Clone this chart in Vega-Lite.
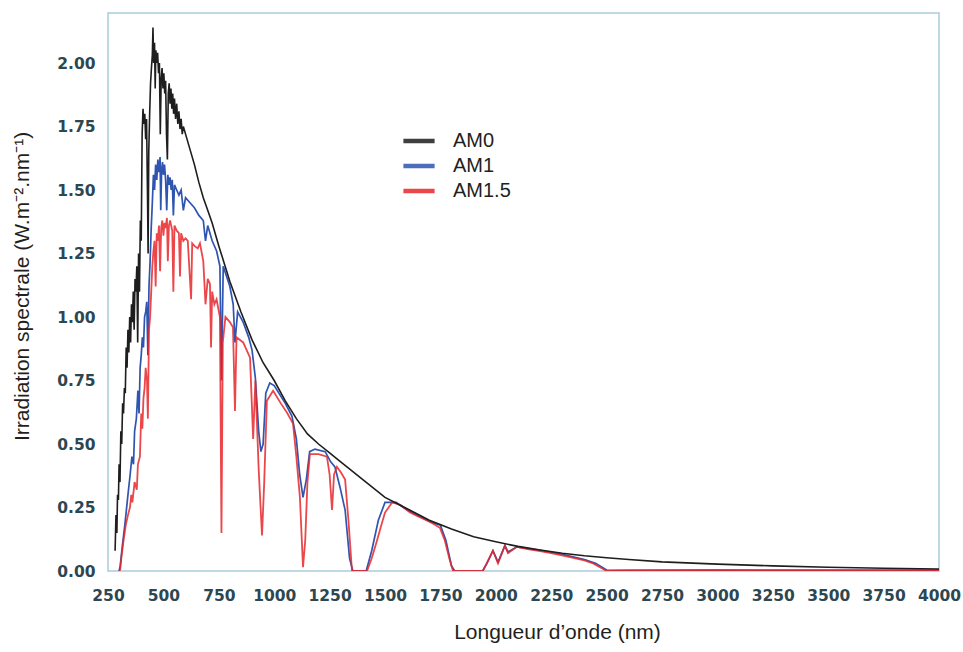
{
  "$schema": "https://vega.github.io/schema/vega-lite/v6.json",
  "width": 831,
  "height": 558,
  "autosize": {"type": "none"},
  "padding": {"left": 108, "top": 13, "right": 24, "bottom": 81},
  "background": "#ffffff",
  "config": {
    "view": {"stroke": "#a9cddc", "strokeWidth": 1.5},
    "axis": {
      "domain": false,
      "ticks": false,
      "grid": false,
      "labelFont": "DejaVu Sans",
      "labelFontWeight": "bold",
      "labelFontSize": 15.5,
      "labelColor": "#2d4751",
      "labelFlush": false,
      "titleFont": "Liberation Sans",
      "titleFontWeight": "normal",
      "titleFontSize": 21,
      "titleColor": "#231f20"
    },
    "legend": {
      "labelFont": "Liberation Sans",
      "labelFontSize": 20,
      "labelColor": "#231f20"
    }
  },
  "encoding": {
    "x": {
      "field": "w",
      "type": "quantitative",
      "scale": {"domain": [250, 4000], "nice": false, "zero": false},
      "axis": {
        "values": [250, 500, 750, 1000, 1250, 1500, 1750, 2000, 2250, 2500, 2750, 3000, 3250, 3500, 3750, 4000],
        "format": "d",
        "labelPadding": 17,
        "labelOverlap": false,
        "labelBound": false,
        "title": "Longueur d’onde (nm)",
        "titleX": 449,
        "titleY": 61,
        "titleAlign": "center",
        "titleBaseline": "middle"
      }
    },
    "y": {
      "field": "v",
      "type": "quantitative",
      "scale": {"domain": [0, 2.197], "nice": false},
      "axis": {
        "values": [0, 0.25, 0.5, 0.75, 1, 1.25, 1.5, 1.75, 2],
        "format": ".2f",
        "labelPadding": 13,
        "title": "Irradiation spectrale (W.m⁻².nm⁻¹)",
        "titleAngle": -90,
        "titleX": -86,
        "titleY": 273,
        "titleAlign": "center",
        "titleBaseline": "middle"
      }
    }
  },
  "layer": [
    {
      "data": {"values": [
        {"w":300,"v":0},{"w":305,"v":0.02},{"w":315,"v":0.1},{"w":327,"v":0.19},{"w":340,"v":0.3},{"w":350,"v":0.38},{"w":358,"v":0.45},{"w":365,"v":0.42},{"w":370,"v":0.55},{"w":378,"v":0.6},{"w":385,"v":0.71},{"w":390,"v":0.62},{"w":395,"v":0.8},{"w":400,"v":0.85},{"w":405,"v":0.92},{"w":410,"v":0.88},{"w":415,"v":1.0},{"w":420,"v":1.02},{"w":425,"v":1.06},{"w":430,"v":0.85},{"w":435,"v":1.12},{"w":440,"v":1.22},{"w":445,"v":1.35},{"w":450,"v":1.45},{"w":455,"v":1.56},{"w":460,"v":1.5},{"w":465,"v":1.6},{"w":470,"v":1.54},{"w":475,"v":1.62},{"w":480,"v":1.57},{"w":485,"v":1.63},{"w":488,"v":1.42},{"w":492,"v":1.58},{"w":496,"v":1.61},{"w":500,"v":1.56},{"w":505,"v":1.6},{"w":510,"v":1.54},{"w":515,"v":1.42},{"w":520,"v":1.56},{"w":525,"v":1.52},{"w":530,"v":1.55},{"w":535,"v":1.5},{"w":540,"v":1.54},{"w":545,"v":1.4},{"w":550,"v":1.52},{"w":560,"v":1.5},{"w":570,"v":1.48},{"w":580,"v":1.5},{"w":590,"v":1.42},{"w":600,"v":1.47},{"w":620,"v":1.45},{"w":640,"v":1.43},{"w":660,"v":1.4},{"w":680,"v":1.38},{"w":690,"v":1.3},{"w":700,"v":1.36},{"w":720,"v":1.3},{"w":740,"v":1.26},{"w":755,"v":1.2},{"w":762,"v":0.75},{"w":770,"v":1.2},{"w":800,"v":1.12},{"w":815,"v":1.05},{"w":823,"v":0.9},{"w":835,"v":1.02},{"w":860,"v":0.98},{"w":885,"v":0.92},{"w":900,"v":0.87},{"w":915,"v":0.76},{"w":930,"v":0.55},{"w":940,"v":0.47},{"w":950,"v":0.5},{"w":962,"v":0.7},{"w":980,"v":0.74},{"w":1000,"v":0.73},{"w":1050,"v":0.66},{"w":1080,"v":0.61},{"w":1100,"v":0.52},{"w":1115,"v":0.38},{"w":1130,"v":0.29},{"w":1145,"v":0.36},{"w":1160,"v":0.47},{"w":1184,"v":0.48},{"w":1230,"v":0.47},{"w":1255,"v":0.43},{"w":1274,"v":0.41},{"w":1297,"v":0.33},{"w":1320,"v":0.24},{"w":1340,"v":0.05},{"w":1355,"v":0},{"w":1415,"v":0},{"w":1440,"v":0.08},{"w":1470,"v":0.2},{"w":1500,"v":0.27},{"w":1550,"v":0.27},{"w":1600,"v":0.24},{"w":1700,"v":0.195},{"w":1750,"v":0.18},{"w":1775,"v":0.12},{"w":1800,"v":0.02},{"w":1815,"v":0},{"w":1940,"v":0},{"w":1960,"v":0.03},{"w":1987,"v":0.08},{"w":2010,"v":0.035},{"w":2041,"v":0.1},{"w":2055,"v":0.075},{"w":2095,"v":0.095},{"w":2200,"v":0.081},{"w":2300,"v":0.066},{"w":2400,"v":0.045},{"w":2450,"v":0.03},{"w":2500,"v":0.004},{"w":2600,"v":0.003},{"w":4000,"v":0.003}
      ]},
      "mark": {"type": "line", "strokeWidth": 1.7, "clip": true},
      "encoding": {
        "color": {
          "datum": "AM1",
          "type": "nominal",
          "scale": {"domain": ["AM0", "AM1", "AM1.5"], "range": ["#1e1e1e", "#2f55b0", "#e8262a"]},
          "legend": {
            "title": null,
            "orient": "none",
            "legendX": 301,
            "legendY": 118,
            "padding": 0,
            "symbolType": "M-2.4,0H2.4",
            "symbolSize": 169,
            "symbolStrokeWidth": 4.5,
            "labelOffset": 24,
            "rowPadding": 5
          }
        }
      }
    },
    {
      "data": {"values": [
        {"w":300,"v":0},{"w":305,"v":0.005},{"w":310,"v":0.05},{"w":320,"v":0.12},{"w":330,"v":0.18},{"w":340,"v":0.22},{"w":349,"v":0.25},{"w":355,"v":0.3},{"w":360,"v":0.27},{"w":370,"v":0.35},{"w":380,"v":0.32},{"w":385,"v":0.42},{"w":394,"v":0.45},{"w":400,"v":0.62},{"w":405,"v":0.56},{"w":410,"v":0.68},{"w":415,"v":0.72},{"w":420,"v":0.8},{"w":426,"v":0.75},{"w":430,"v":0.6},{"w":435,"v":0.95},{"w":440,"v":1.0},{"w":445,"v":1.1},{"w":450,"v":1.2},{"w":455,"v":1.26},{"w":460,"v":1.3},{"w":465,"v":1.12},{"w":470,"v":1.33},{"w":475,"v":1.3},{"w":480,"v":1.36},{"w":485,"v":1.18},{"w":490,"v":1.35},{"w":495,"v":1.38},{"w":500,"v":1.32},{"w":505,"v":1.37},{"w":510,"v":1.35},{"w":516,"v":1.39},{"w":520,"v":1.22},{"w":525,"v":1.36},{"w":530,"v":1.38},{"w":540,"v":1.34},{"w":545,"v":1.1},{"w":550,"v":1.36},{"w":560,"v":1.34},{"w":570,"v":1.33},{"w":575,"v":1.16},{"w":580,"v":1.33},{"w":590,"v":1.3},{"w":600,"v":1.31},{"w":610,"v":1.3},{"w":625,"v":1.07},{"w":630,"v":1.29},{"w":640,"v":1.28},{"w":655,"v":1.27},{"w":665,"v":1.29},{"w":680,"v":1.22},{"w":690,"v":1.05},{"w":700,"v":1.15},{"w":710,"v":1.13},{"w":715,"v":0.88},{"w":720,"v":1.1},{"w":730,"v":1.05},{"w":740,"v":1.07},{"w":755,"v":1.0},{"w":762,"v":0.15},{"w":768,"v":0.9},{"w":780,"v":1.0},{"w":800,"v":0.98},{"w":814,"v":0.96},{"w":823,"v":0.63},{"w":830,"v":0.92},{"w":860,"v":0.9},{"w":891,"v":0.84},{"w":905,"v":0.52},{"w":915,"v":0.75},{"w":930,"v":0.4},{"w":945,"v":0.14},{"w":955,"v":0.35},{"w":967,"v":0.67},{"w":995,"v":0.71},{"w":1030,"v":0.66},{"w":1060,"v":0.62},{"w":1085,"v":0.58},{"w":1100,"v":0.45},{"w":1116,"v":0.29},{"w":1130,"v":0.015},{"w":1140,"v":0.12},{"w":1150,"v":0.35},{"w":1161,"v":0.46},{"w":1200,"v":0.46},{"w":1238,"v":0.45},{"w":1250,"v":0.38},{"w":1261,"v":0.24},{"w":1270,"v":0.38},{"w":1283,"v":0.41},{"w":1300,"v":0.39},{"w":1320,"v":0.36},{"w":1335,"v":0.2},{"w":1351,"v":0},{"w":1419,"v":0},{"w":1440,"v":0.05},{"w":1464,"v":0.12},{"w":1480,"v":0.17},{"w":1500,"v":0.23},{"w":1532,"v":0.27},{"w":1570,"v":0.26},{"w":1613,"v":0.23},{"w":1650,"v":0.215},{"w":1700,"v":0.195},{"w":1748,"v":0.17},{"w":1770,"v":0.12},{"w":1790,"v":0.05},{"w":1807,"v":0},{"w":1942,"v":0},{"w":1987,"v":0.08},{"w":2010,"v":0.03},{"w":2041,"v":0.1},{"w":2055,"v":0.07},{"w":2095,"v":0.095},{"w":2150,"v":0.085},{"w":2200,"v":0.078},{"w":2250,"v":0.07},{"w":2335,"v":0.055},{"w":2400,"v":0.042},{"w":2439,"v":0.03},{"w":2470,"v":0.015},{"w":2500,"v":0},{"w":2600,"v":0.002},{"w":3000,"v":0.004},{"w":3500,"v":0.003},{"w":4000,"v":0.003}
      ]},
      "mark": {"type": "line", "strokeWidth": 1.8, "opacity": 0.85, "clip": true},
      "encoding": {"color": {"datum": "AM1.5", "type": "nominal"}}
    },
    {
      "data": {"values": [
        {"w":282,"v":0.08},{"w":286,"v":0.22},{"w":290,"v":0.15},{"w":293,"v":0.3},{"w":297,"v":0.28},{"w":300,"v":0.42},{"w":304,"v":0.35},{"w":308,"v":0.55},{"w":312,"v":0.5},{"w":316,"v":0.66},{"w":320,"v":0.62},{"w":324,"v":0.72},{"w":328,"v":0.7},{"w":332,"v":0.88},{"w":336,"v":0.8},{"w":340,"v":0.95},{"w":344,"v":0.86},{"w":348,"v":1.0},{"w":352,"v":0.9},{"w":356,"v":1.05},{"w":360,"v":0.98},{"w":364,"v":1.1},{"w":368,"v":0.95},{"w":372,"v":1.15},{"w":376,"v":1.1},{"w":380,"v":1.2},{"w":384,"v":0.9},{"w":388,"v":1.25},{"w":392,"v":1.1},{"w":396,"v":1.38},{"w":400,"v":1.3},{"w":404,"v":1.72},{"w":408,"v":1.82},{"w":412,"v":1.76},{"w":416,"v":1.8},{"w":420,"v":1.7},{"w":424,"v":1.78},{"w":428,"v":1.5},{"w":431,"v":1.25},{"w":434,"v":1.65},{"w":438,"v":1.8},{"w":442,"v":1.92},{"w":446,"v":1.98},{"w":450,"v":2.03},{"w":453,"v":2.14},{"w":456,"v":2.0},{"w":460,"v":2.08},{"w":463,"v":1.9},{"w":466,"v":2.05},{"w":470,"v":2.0},{"w":474,"v":2.04},{"w":478,"v":1.96},{"w":482,"v":2.0},{"w":486,"v":1.72},{"w":490,"v":1.94},{"w":494,"v":1.98},{"w":498,"v":1.9},{"w":502,"v":1.96},{"w":506,"v":1.88},{"w":510,"v":1.93},{"w":514,"v":1.72},{"w":518,"v":1.62},{"w":522,"v":1.88},{"w":526,"v":1.92},{"w":530,"v":1.84},{"w":534,"v":1.9},{"w":538,"v":1.82},{"w":542,"v":1.88},{"w":546,"v":1.8},{"w":550,"v":1.86},{"w":555,"v":1.78},{"w":560,"v":1.84},{"w":565,"v":1.76},{"w":570,"v":1.81},{"w":575,"v":1.74},{"w":580,"v":1.78},{"w":585,"v":1.72},{"w":590,"v":1.75},{"w":600,"v":1.72},{"w":620,"v":1.66},{"w":640,"v":1.6},{"w":660,"v":1.53},{"w":680,"v":1.47},{"w":700,"v":1.42},{"w":720,"v":1.37},{"w":750,"v":1.28},{"w":800,"v":1.14},{"w":850,"v":1.02},{"w":900,"v":0.91},{"w":950,"v":0.82},{"w":1000,"v":0.75},{"w":1050,"v":0.67},{"w":1100,"v":0.6},{"w":1150,"v":0.54},{"w":1200,"v":0.5},{"w":1250,"v":0.465},{"w":1300,"v":0.43},{"w":1400,"v":0.36},{"w":1500,"v":0.29},{"w":1600,"v":0.245},{"w":1700,"v":0.2},{"w":1800,"v":0.165},{"w":1900,"v":0.135},{"w":2000,"v":0.115},{"w":2100,"v":0.097},{"w":2200,"v":0.083},{"w":2300,"v":0.07},{"w":2400,"v":0.06},{"w":2500,"v":0.052},{"w":2600,"v":0.045},{"w":2750,"v":0.036},{"w":3000,"v":0.027},{"w":3250,"v":0.02},{"w":3500,"v":0.015},{"w":3750,"v":0.011},{"w":4000,"v":0.008}
      ]},
      "mark": {"type": "line", "strokeWidth": 1.6, "clip": true},
      "encoding": {"color": {"datum": "AM0", "type": "nominal"}}
    }
  ]
}
